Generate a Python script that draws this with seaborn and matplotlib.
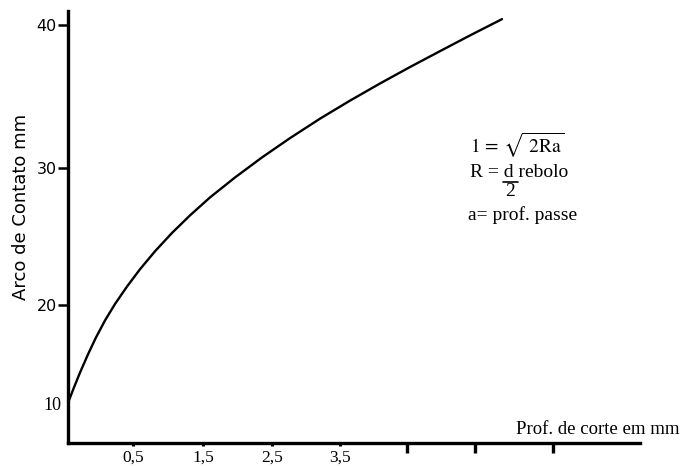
import numpy as np
import pandas as pd
import matplotlib
matplotlib.use("Agg")
import matplotlib.pyplot as plt
import matplotlib.transforms as mtransforms
import seaborn as sns

# ---- data ----
depth = [0, 0.046, 0.092, 0.154, 0.215, 0.285, 0.362, 0.454, 0.600, 0.814, 1.057, 1.314,
         1.601, 1.964, 2.355, 2.765, 3.206, 3.649, 4.097, 4.544, 4.985, 5.426, 5.846]
arc = [10, 11.59, 13.09, 14.97, 16.68, 18.43, 20.08, 21.35, 22.61, 23.92, 25.26, 26.54,
       27.85, 29.31, 30.74, 32.09, 33.45, 34.71, 35.91, 37.06, 38.17, 39.27, 40.41]
x_ticks = [0.5, 1.5, 2.5, 3.5]
x_tick_labels = ["0,5", "1,5", "2,5", "3,5"]
x_unlabeled_ticks = [4.5, 5.5, 6.5]
y_ticks = [10, 20, 30, 40]
y_tick_labels = ["10", "20", "30", "40"]
x_label = "Prof. de corte em mm"
y_label = "Arco de Contato mm"

df = pd.DataFrame({"depth": depth, "arc": arc})

# hand-drawn (uneven) axis spacing, expressed as piecewise-linear scales
xk_val = np.array([-1, 0, 0.5, 1.5, 2.5, 3.5, 4.5, 5.5, 6.5, 10])
xk_pos = np.array([-62, 68, 133, 203, 272, 340, 407, 475, 553, 826], dtype=float)
yk_val = np.array([0, 10, 20, 30, 40, 50])
yk_pos = np.array([-58, 40, 138, 275, 418, 561], dtype=float)

def xf(v):
    return np.interp(v, xk_val, xk_pos)
def xi(p):
    return np.interp(p, xk_pos, xk_val)
def yf(v):
    return np.interp(v, yk_val, yk_pos)
def yi(p):
    return np.interp(p, yk_pos, yk_val)

sns.set_theme(style="ticks")
plt.rcParams["font.family"] = ["Liberation Serif", "DejaVu Serif"]
plt.rcParams["mathtext.fontset"] = "stix"
for k in ("text.color", "axes.labelcolor", "xtick.color", "ytick.color"):
    plt.rcParams[k] = "black"

W, H = 680, 466
fig = plt.figure(figsize=(W / 100, H / 100), dpi=100)
ax = fig.add_axes([68 / W, (H - 443) / H, (640 - 68) / W, (443 - 11) / H])
ax.set_xscale("function", functions=(xf, xi))
ax.set_yscale("function", functions=(yf, yi))

sns.lineplot(data=df, x="depth", y="arc", ax=ax, color="black", linewidth=1.7,
             estimator=None, sort=False)

ax.set_xlim(0, xi(640))
ax.set_ylim(yi(0), yi(432))

for side in ("top", "right"):
    ax.spines[side].set_visible(False)
for side in ("left", "bottom"):
    ax.spines[side].set_linewidth(2.4)
    ax.spines[side].set_color("black")

ax.minorticks_off()
ax.set_xticks(x_ticks)
ax.set_xticklabels(x_tick_labels, fontsize=12.5, fontfamily="Liberation Serif")
ax.set_xticks(x_unlabeled_ticks, minor=True)
ax.set_yticks(y_ticks)
ax.set_yticklabels(y_tick_labels, fontsize=11.5, fontfamily="DejaVu Sans")
ax.tick_params(axis="x", which="major", bottom=True, direction="out", length=5,
               width=2.2, pad=0, colors="black")
ax.tick_params(axis="x", which="minor", bottom=True, direction="out", length=7,
               width=2.4, colors="black")
ax.tick_params(axis="y", which="major", left=True, direction="out", length=7,
               width=1.8, pad=1, colors="black")

# labelled x ticks are tiny in the reference
for t in ax.xaxis.get_major_ticks():
    t.tick1line.set_markersize(2.5)
# "10" marks the curve start: no tick mark, serif font, sits close to the axis
t10 = ax.yaxis.get_major_ticks()[0]
t10.tick1line.set_visible(False)
t10.label1.set_fontfamily("Liberation Serif")
t10.label1.set_fontsize(13)
t10.label1.set_transform(t10.label1.get_transform() +
                         mtransforms.ScaledTranslation(5 / 100, 0, fig.dpi_scale_trans))

ax.set_xlabel("")
ax.set_ylabel("")
fig.text(679 / W, 1 - 434 / H, x_label, ha="right", va="baseline",
         fontsize=13.5, fontfamily="Liberation Serif")
fig.text(21 / W, 1 - 207 / H, y_label, rotation=90, ha="center", va="center",
         fontsize=13, fontfamily="DejaVu Sans")

# formula block
fig.text(470 / W, 1 - 153 / H, r"$\mathrm{1\,=\,\sqrt{\ 2Ra}}$", ha="left", va="baseline",
         fontsize=14)
fig.text(470 / W, 1 - 177 / H, "R = d rebolo", ha="left", va="baseline", fontsize=14)
fig.add_artist(plt.Line2D([503 / W, 518 / W], [1 - 182 / H, 1 - 182 / H],
                          color="black", linewidth=1.2))
fig.text(510 / W, 1 - 196 / H, "2", ha="center", va="baseline", fontsize=14)
fig.text(468 / W, 1 - 220 / H, "a= prof. passe", ha="left", va="baseline", fontsize=14)

fig.savefig("out.png", dpi=100)
